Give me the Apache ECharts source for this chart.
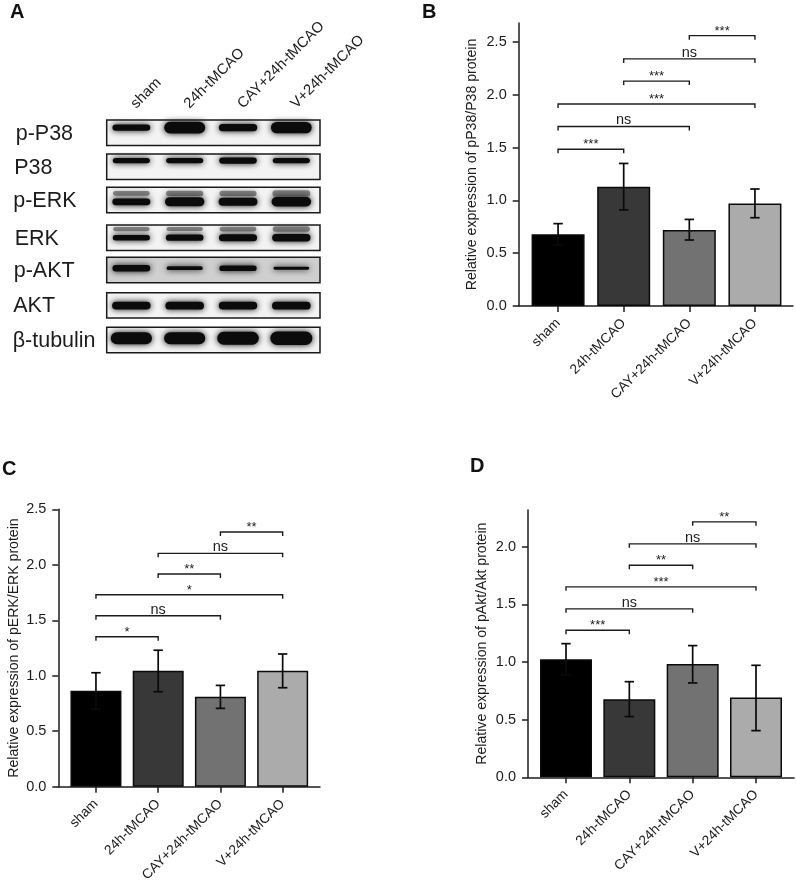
<!DOCTYPE html>
<html lang="en">
<head>
<meta charset="UTF-8">
<title>Western blot and relative expression</title>
<script src="https://cdn.jsdelivr.net/npm/echarts@6/dist/echarts.min.js"></script>
<style>
html,body{margin:0;padding:0;background:#fff}
#chart{width:796px;height:881px}
</style>
</head>
<body>
<div id="chart"></div>
<script>
// data
var categories = ['sham', '24h-tMCAO', 'CAY+24h-tMCAO', 'V+24h-tMCAO'];
var yTicks = [0, 0.5, 1, 1.5, 2];
var yTicksLong = [0, 0.5, 1, 1.5, 2, 2.5];

var pP38Values = [0.68, 1.13, 0.72, 0.97];
var pP38Low = [0.58, 0.91, 0.625, 0.836];
var pP38High = [0.78, 1.35, 0.82, 1.108];
// from, to, height, label
var pP38Brackets = [
    [0, 1, 1.484, '***'], [0, 2, 1.70, 'ns'], [0, 3, 1.913, '***'],
    [1, 2, 2.13, '***'], [1, 3, 2.34, 'ns'], [2, 3, 2.56, '***']
];

var pERKValues = [0.865, 1.045, 0.81, 1.045];
var pERKLow = [0.70, 0.856, 0.706, 0.892];
var pERKHigh = [1.027, 1.23, 0.913, 1.196];
var pERKBrackets = [
    [0, 1, 1.352, '*'], [0, 2, 1.54, 'ns'], [0, 3, 1.73, '*'],
    [1, 2, 1.917, '**'], [1, 3, 2.103, 'ns'], [2, 3, 2.296, '**']
];

var pAktValues = [1.025, 0.677, 0.984, 0.692];
var pAktLow = [0.89, 0.527, 0.819, 0.405];
var pAktHigh = [1.16, 0.83, 1.143, 0.972];
var pAktBrackets = [
    [0, 1, 1.276, '***'], [0, 2, 1.462, 'ns'], [0, 3, 1.653, '***'],
    [1, 2, 1.84, '**'], [1, 3, 2.026, 'ns'], [2, 3, 2.217, '**']
];

// blot: band density per lane, 0..1
var blotRows = ['p-P38', 'P38', 'p-ERK', 'ERK', 'p-AKT', 'AKT', 'β-tubulin'];
var blotDensity = [
    [0.48, 0.88, 0.55, 0.85],
    [0.40, 0.40, 0.46, 0.40],
    [0.50, 0.68, 0.60, 0.70],
    [0.40, 0.46, 0.52, 0.55],
    [0.48, 0.28, 0.42, 0.22],
    [0.56, 0.58, 0.56, 0.58],
    [0.90, 0.90, 0.95, 1.00]
];
// faint upper band on the ERK rows
var blotUpper = [
    null,
    null,
    [0.35, 0.40, 0.38, 0.48],
    [0.32, 0.30, 0.36, 0.40],
    null,
    null,
    null
];

var colors = ['#000000', '#383838', '#727272', '#ababab'];
var ink = '#1c1c1c';
var font = '"Liberation Sans", Arial, sans-serif';

// blot layout, px from the top of the blot grid
var rowTop = [0, 34, 67.3, 105, 137.3, 172.7, 207.3];
var rowH = 25.4;
var rowLabelX = [-91, -92.5, -93.5, -92, -93, -93.5, -94];
var bandPos = [0.30, 0.26, 0.57, 0.50, 0.43, 0.51, 0.43];
var upperPos = [0, 0, 0.24, 0.16, 0, 0, 0];

var grids = [], xAxes = [], yAxes = [], series = [];

function barPanel(box, maxY, ticks, barW, title, values, low, high, brackets, nameGap) {
    var i = grids.length;
    grids.push({left: box.left, top: box.top, width: box.width, height: box.height, outerBoundsMode: 'none'});
    xAxes.push({
        gridIndex: i, type: 'value', min: box.minX, max: box.maxX,
        splitLine: {show: false},
        axisLine: {show: true, onZero: false, lineStyle: {color: ink, width: 1.5}},
        axisTick: {show: true, customValues: [0, 1, 2, 3], length: 6, lineStyle: {color: ink, width: 1.5}},
        axisLabel: {
            customValues: [0, 1, 2, 3], rotate: 45, margin: 15, fontSize: 13.7,
            padding: [14, 0, 0, 0], fontFamily: font, color: ink,
            formatter: function (v) { return categories[v]; }
        }
    });
    yAxes.push({
        gridIndex: i, type: 'value', min: 0, max: maxY,
        name: title, nameLocation: 'middle', nameRotate: 90, nameGap: nameGap,
        nameTextStyle: {fontSize: 14.1, fontFamily: font, color: ink},
        splitLine: {show: false},
        axisLine: {show: true, onZero: false, lineStyle: {color: ink, width: 1.5}},
        axisTick: {show: true, customValues: ticks, length: 6, lineStyle: {color: ink, width: 1.5}},
        axisLabel: {
            customValues: ticks, margin: 12, fontSize: 14.5, fontFamily: font, color: ink,
            formatter: function (v) { return v.toFixed(1); }
        }
    });
    series.push({
        type: 'bar', xAxisIndex: i, yAxisIndex: i, barWidth: barW, silent: true,
        data: values.map(function (v, k) {
            return {value: [k, v], itemStyle: {color: colors[k], borderColor: '#0a0a0a', borderWidth: 1.5}};
        })
    });
    // error bars
    series.push({
        type: 'custom', xAxisIndex: i, yAxisIndex: i, z: 5, silent: true,
        encode: {x: 0, y: [1, 2]},
        data: values.map(function (v, k) { return [k, low[k], high[k]]; }),
        renderItem: function (params, api) {
            var a = api.coord([api.value(0), api.value(1)]);
            var b = api.coord([api.value(0), api.value(2)]);
            var st = {stroke: '#0a0a0a', lineWidth: 1.7, fill: null};
            return {type: 'group', children: [
                {type: 'line', shape: {x1: a[0], y1: a[1], x2: b[0], y2: b[1]}, style: st},
                {type: 'line', shape: {x1: a[0] - 4.7, y1: a[1], x2: a[0] + 4.7, y2: a[1]}, style: st},
                {type: 'line', shape: {x1: b[0] - 4.7, y1: b[1], x2: b[0] + 4.7, y2: b[1]}, style: st}
            ]};
        }
    });
    // significance brackets
    series.push({
        type: 'custom', xAxisIndex: i, yAxisIndex: i, z: 6, silent: true,
        encode: {x: [0, 1], y: 2},
        data: brackets.map(function (b) { return [b[0], b[1], b[2]]; }),
        renderItem: function (params, api) {
            var a = api.coord([api.value(0), api.value(2)]);
            var b = api.coord([api.value(1), api.value(2)]);
            var label = brackets[params.dataIndex][3];
            var ns = label === 'ns';
            return {type: 'group', children: [
                {
                    type: 'polyline',
                    shape: {points: [[a[0], a[1] + 4], [a[0], a[1]], [b[0], b[1]], [b[0], b[1] + 4]]},
                    style: {stroke: ink, lineWidth: 1.4, fill: null}
                },
                {
                    type: 'text',
                    style: {
                        text: label, x: (a[0] + b[0]) / 2, y: a[1] + (ns ? 1.5 : 2),
                        align: 'center', verticalAlign: 'bottom',
                        font: (ns ? 14.5 : 13) + 'px ' + font, fill: ink
                    }
                }
            ]};
        }
    });
}

barPanel({left: 518.7, top: 23, width: 274.3, height: 283, minX: -0.6, maxX: 3.58},
    2.68, yTicksLong, 53, 'Relative expression of pP38/P38 protein',
    pP38Values, pP38Low, pP38High, pP38Brackets, 40);
barPanel({left: 58.3, top: 509.3, width: 261.7, height: 277.4, minX: -0.605, maxX: 3.6},
    2.5, yTicksLong, 51, 'Relative expression of pERK/ERK protein',
    pERKValues, pERKLow, pERKHigh, pERKBrackets, 37);
barPanel({left: 528, top: 510, width: 266, height: 267.3, minX: -0.6, maxX: 3.6},
    2.32, yTicks, 52, 'Relative expression of pAkt/Akt protein',
    pAktValues, pAktLow, pAktHigh, pAktBrackets, 39);

// panel A, the blot
var blotGrid = grids.length;
grids.push({left: 106.7, top: 120, width: 213.3, height: 232.7, outerBoundsMode: 'none'});
xAxes.push({
    gridIndex: blotGrid, type: 'category', position: 'top', data: categories,
    axisLine: {show: false}, axisTick: {show: false},
    axisLabel: {rotate: 45, margin: 14, fontSize: 14.8, fontFamily: font, color: ink, interval: 0}
});
yAxes.push({gridIndex: blotGrid, type: 'value', inverse: true, min: 0, max: 232.7, show: false});

series.push({
    type: 'custom', xAxisIndex: blotGrid, yAxisIndex: blotGrid, silent: true, z: 2,
    data: blotRows.map(function (r, k) { return [0, k]; }),
    encode: {x: 0, y: 1},
    renderItem: function (params, api) {
        var k = params.dataIndex;
        var cs = params.coordSys;
        var top = api.coord([0, rowTop[k]])[1];
        return {type: 'group', children: [
            {
                type: 'rect',
                shape: {x: cs.x, y: top, width: cs.width, height: rowH},
                style: {fill: k === 4 ? '#cfcfcf' : '#f3f3f3'}
            },
            {
                type: 'text',
                style: {
                    text: blotRows[k], x: cs.x + rowLabelX[k], y: top + rowH / 2 + 1,
                    align: 'left', verticalAlign: 'middle',
                    font: '21.5px ' + font, fill: ink
                }
            }
        ]};
    }
});
var bandData = [];
blotDensity.forEach(function (row, r) {
    row.forEach(function (d, lane) {
        bandData.push([lane, r, d, blotUpper[r] ? blotUpper[r][lane] : 0]);
    });
});
series.push({
    type: 'custom', xAxisIndex: blotGrid, yAxisIndex: blotGrid, silent: true, z: 3,
    data: bandData,
    encode: {x: 0, y: 1},
    renderItem: function (params, api) {
        var lane = api.value(0), r = api.value(1), d = api.value(2), up = api.value(3);
        var top = api.coord([0, rowTop[r]])[1];
        var cx = api.coord([lane, 0])[0] - 2;
        var kids = [];
        function band(cy, dens, fill, blur) {
            var h = dens * 13.5, w = 34 + dens * 8;
            kids.push({
                type: 'rect',
                shape: {x: cx - w / 2, y: cy - h / 2, width: w, height: h, r: h / 2},
                style: {fill: fill, shadowBlur: blur, shadowColor: fill}
            });
        }
        if (up) band(top + upperPos[r] * rowH, up, 'rgba(70,70,70,0.6)', 5);
        band(top + bandPos[r] * rowH, d, '#0b0b0b', 6);
        return {type: 'group', children: kids};
    }
});
// frames go on top of the bands
series.push({
    type: 'custom', xAxisIndex: blotGrid, yAxisIndex: blotGrid, silent: true, z: 4,
    data: blotRows.map(function (r, k) { return [0, k]; }),
    encode: {x: 0, y: 1},
    renderItem: function (params, api) {
        var k = params.dataIndex;
        var cs = params.coordSys;
        var top = api.coord([0, rowTop[k]])[1];
        return {
            type: 'rect',
            shape: {x: cs.x, y: top, width: cs.width, height: rowH},
            style: {fill: null, stroke: '#1a1a1a', lineWidth: 1.5}
        };
    }
});

function letter(text, x, y) {
    return {
        text: text, left: x, top: y, padding: 0,
        textStyle: {fontSize: 20, fontWeight: 'bold', fontFamily: font, color: '#111'}
    };
}

var chart = echarts.init(document.getElementById('chart'));
chart.setOption({
    animation: false,
    backgroundColor: '#fff',
    title: [letter('A', 10, 2), letter('B', 422, 2), letter('C', 2, 459), letter('D', 470, 456)],
    grid: grids,
    xAxis: xAxes,
    yAxis: yAxes,
    series: series
});
</script>
</body>
</html>
